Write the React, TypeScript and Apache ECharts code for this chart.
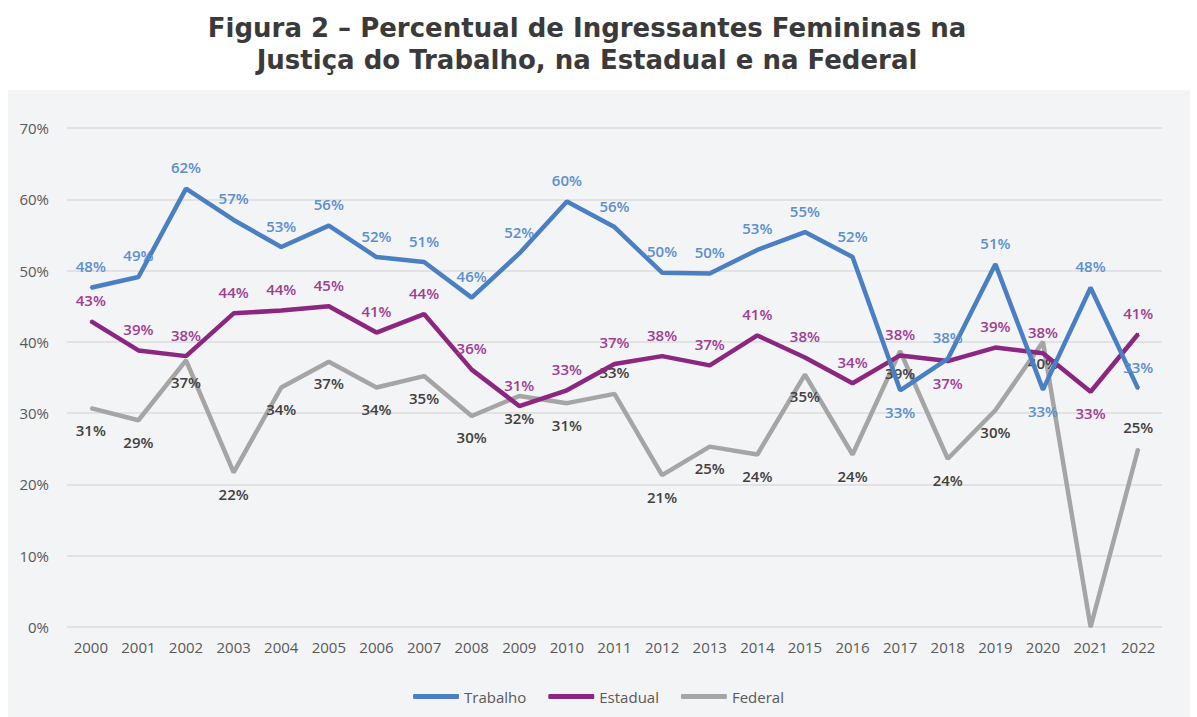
import React, { useEffect, useRef } from "react";
import * as echarts from "echarts";

const years = ["2000","2001","2002","2003","2004","2005","2006","2007","2008","2009","2010","2011","2012","2013","2014","2015","2016","2017","2018","2019","2020","2021","2022"];
const trabalho = [47.6,49.1,61.5,57.1,53.3,56.3,51.9,51.2,46.2,52.4,59.7,56.1,49.7,49.6,52.9,55.4,51.9,33.2,37.6,50.9,33.3,47.6,33.4];
const estadual = [42.9,38.8,38.0,44.0,44.4,45.0,41.3,43.9,36.1,31.0,33.2,36.9,38.0,36.7,40.9,37.8,34.2,38.1,37.3,39.2,38.4,33.0,41.1];
const federal = [30.7,29.0,37.4,21.7,33.6,37.2,33.6,35.2,29.6,32.4,31.4,32.7,21.3,25.3,24.2,35.4,24.2,38.7,23.6,30.4,40.0,0,25.0];
const yTicks = [0, 10, 20, 30, 40, 50, 60, 70];
const titleLines = [
  "Figura 2 – Percentual de Ingressantes Femininas na",
  "Justiça do Trabalho, na Estadual e na Federal",
];

// label placement per point (t = above, b = below, n = hidden)
const trabalhoPlace = "tttttttttttttttttbttbtt".split("");
const estadualPlace = "ttttttttttttttttttbttbt".split("");
const federalPlace = "bbbbbbbbbbbtbbbbbbbbbnt".split("");

function mk(values: number[], place: string[], offsets: Record<number, [number, number]> = {}) {
  return values.map((v, i) => ({
    value: v,
    label: {
      show: place[i] !== "n",
      position: place[i] === "b" ? "bottom" : "top",
      offset: offsets[i] || [0, 0],
    },
  }));
}

export default function App() {
  const ref = useRef<HTMLDivElement>(null);
  useEffect(() => {
    if (!ref.current) return;
    const chart = echarts.init(ref.current, null, { renderer: "svg" });
    const fmt = (p: any) => Math.round(p.value) + "%";
    const labelBase = {
      show: true,
      formatter: fmt,
      fontFamily: "Open Sans",
      fontSize: 15,
      fontWeight: 600,
      distance: 13,
    };
    const mkSeries = (name: string, data: any[], color: string, labelColor: string, z: number) => ({
      name,
      type: "line",
      data,
      symbol: "circle",
      symbolSize: 2,
      showSymbol: true,
      color,
      itemStyle: { color },
      lineStyle: { width: 4.5, color },
      label: { ...labelBase, color: labelColor },
      labelLayout: { hideOverlap: false },
      z,
    });
    chart.setOption({
      animation: false,
      backgroundColor: "#ffffff",
      textStyle: { fontFamily: "Open Sans" },
      graphic: [
        {
          type: "rect",
          z: -10,
          silent: true,
          shape: { x: 8, y: 90, width: 1182, height: 627 },
          style: { fill: "#f3f4f6" },
        },
        ...titleLines.map((t, i) => ({
          type: "text",
          x: 587,
          y: 28 + i * 32,
          silent: true,
          style: {
            text: t,
            fill: "#3a3a3a",
            font: "bold 26px 'DejaVu Sans'",
            textAlign: "center",
            textVerticalAlign: "middle",
          },
        })),
      ],
      legend: {
        bottom: 8,
        left: "center",
        itemWidth: 46,
        itemHeight: 5,
        itemGap: 22,
        icon: "roundRect",
        textStyle: { fontFamily: "Open Sans", fontSize: 15, color: "#595959" },
        data: ["Trabalho", "Estadual", "Federal"],
      },
      grid: { left: 67, right: 35, top: 128, bottom: 90, containLabel: false },
      xAxis: {
        type: "category",
        data: years,
        boundaryGap: true,
        axisLine: { show: false },
        axisTick: { show: false },
        axisLabel: { color: "#595959", fontSize: 15, fontFamily: "Open Sans", margin: 12 },
      },
      yAxis: {
        type: "value",
        min: yTicks[0],
        max: yTicks[yTicks.length - 1],
        interval: 10,
        axisLine: { show: false },
        axisTick: { show: false },
        axisLabel: { formatter: "{value}%", color: "#595959", fontSize: 15, fontFamily: "Open Sans", margin: 18 },
        splitLine: { lineStyle: { color: "#dcdcdc", width: 1.5 } },
      },
      series: [
        mkSeries("Federal", mk(federal, federalPlace), "#a5a5a5", "#404040", 2),
        mkSeries("Estadual", mk(estadual, estadualPlace), "#8b2781", "#a03d93", 3),
        mkSeries("Trabalho", mk(trabalho, trabalhoPlace, { 18: [-14, 0] }), "#4a80c3", "#5b8fd0", 4),
      ],
    });
    return () => chart.dispose();
  }, []);
  return (
    <div
      ref={ref}
      style={{ position: "fixed", left: 0, top: 0, width: 1197, height: 717, background: "#fff" }}
    />
  );
}
